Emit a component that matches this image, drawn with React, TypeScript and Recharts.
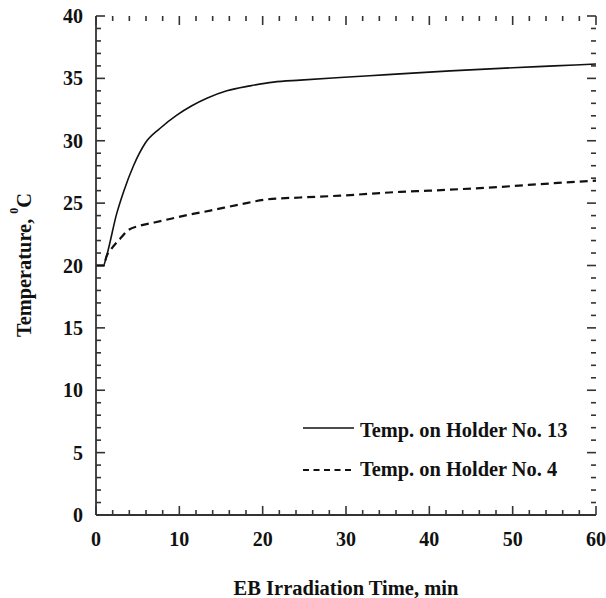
import React from "react";
import { LineChart, Line, XAxis, YAxis, ReferenceLine } from "recharts";

const holder13: { t: number; v: number }[] = [
  { t: 0, v: 20 }, { t: 0.9, v: 20 }, { t: 1.2, v: 20.6 }, { t: 2.5, v: 24.2 },
  { t: 3.3, v: 25.9 }, { t: 4.5, v: 28.0 }, { t: 5.9, v: 29.8 }, { t: 7.7, v: 31.0 },
  { t: 9.7, v: 32.05 }, { t: 11.5, v: 32.8 }, { t: 13.3, v: 33.4 }, { t: 15.7, v: 34.0 },
  { t: 18.5, v: 34.4 }, { t: 21.3, v: 34.7 }, { t: 24.5, v: 34.86 }, { t: 29.3, v: 35.07 },
  { t: 35, v: 35.3 }, { t: 42.5, v: 35.6 }, { t: 50, v: 35.85 }, { t: 55, v: 36.0 },
  { t: 60, v: 36.15 },
];

const holder4: { t: number; v: number }[] = [
  { t: 0, v: 20 }, { t: 0.9, v: 20 }, { t: 1.3, v: 20.8 }, { t: 1.7, v: 21.2 },
  { t: 3.1, v: 22.3 }, { t: 3.7, v: 22.75 }, { t: 5.3, v: 23.2 }, { t: 7, v: 23.45 },
  { t: 9, v: 23.75 }, { t: 11, v: 24.05 }, { t: 13.7, v: 24.4 }, { t: 17.3, v: 24.9 },
  { t: 20.5, v: 25.3 }, { t: 24.5, v: 25.45 }, { t: 29.3, v: 25.6 }, { t: 36.5, v: 25.9 },
  { t: 40, v: 26.0 }, { t: 48.5, v: 26.3 }, { t: 55, v: 26.6 }, { t: 60, v: 26.8 },
];

const xMajor = [0, 10, 20, 30, 40, 50, 60];
const xMinor: number[] = [];
for (let i = 2; i < 60; i += 2) if (i % 10 !== 0) xMinor.push(i);
const yMajor = [0, 5, 10, 15, 20, 25, 30, 35, 40];
const yMinor: number[] = [];
for (let i = 1; i < 40; i += 1) if (i % 5 !== 0) yMinor.push(i);

const seriesNames = ["Temp. on Holder No. 13", "Temp. on Holder No. 4"];
const xTitle = "EB Irradiation Time, min";
const yTitle = "Temperature, ";

const FONT = "'Liberation Serif', 'Times New Roman', serif";
const AX = "#333";
const TXT = "#111";

const X_MAJ = 0.72, X_MIN = 0.4;
const Y_MAJ = 1.08, Y_MIN = 0.6;

const BottomLabel = (p: any) => (
  <text x={p.x} y={p.y + 31} textAnchor="middle" fontFamily={FONT} fontWeight="bold" fontSize={20} fill={TXT}>
    {p.payload.value}
  </text>
);
const LeftLabel = (p: any) => (
  <text x={p.x - 13} y={p.y + 7} textAnchor="end" fontFamily={FONT} fontWeight="bold" fontSize={20} fill={TXT}>
    {p.payload.value}
  </text>
);

const al = { stroke: AX, strokeWidth: 1.8 };
const tk = { stroke: AX, strokeWidth: 1.6 };

export default function App() {
  const tr: React.ReactNode[] = [];
  const bl: React.ReactNode[] = [];
  const addX = (t: number, len: number) => {
    tr.push(<ReferenceLine key={"t" + t} xAxisId="b" yAxisId="l" segment={[{ x: t, y: 40 }, { x: t, y: 40 - len }]} {...tk} ifOverflow="visible" />);
    bl.push(<ReferenceLine key={"b" + t} xAxisId="b" yAxisId="l" segment={[{ x: t, y: len }, { x: t, y: 0.0001 }]} stroke="#343434" strokeWidth={1.6} ifOverflow="visible" />);
  };
  const addY = (v: number, len: number) => {
    tr.push(<ReferenceLine key={"r" + v} xAxisId="b" yAxisId="l" segment={[{ x: 60, y: v }, { x: 60 - len, y: v }]} {...tk} ifOverflow="visible" />);
    bl.push(<ReferenceLine key={"l" + v} xAxisId="b" yAxisId="l" segment={[{ x: len, y: v + 0.0001 }, { x: 0.0001, y: v + 0.0001 }]} stroke="#323232" strokeWidth={1.6} ifOverflow="visible" />);
  };
  xMajor.forEach((t) => addX(t, X_MAJ));
  xMinor.forEach((t) => addX(t, X_MIN));
  yMajor.forEach((v) => addY(v, Y_MAJ));
  yMinor.forEach((v) => addY(v, Y_MIN));

  return (
    <div style={{ position: "absolute", left: 0, top: 0, width: 606, height: 598, background: "#fff" }}>
      <LineChart width={606} height={598} margin={{ top: 16, right: 10, bottom: 0, left: 0 }}>
        <XAxis xAxisId="b" type="number" dataKey="t" domain={[0, 60]} ticks={xMajor} interval={0}
          height={83} tickSize={0} tickMargin={0} tickLine={false} tick={BottomLabel}
          axisLine={al} allowDataOverflow />
        <XAxis xAxisId="t" orientation="top" type="number" dataKey="t" domain={[0, 60]} ticks={xMajor}
          height={0} tick={false} tickLine={false} axisLine={al} allowDataOverflow />
        <YAxis yAxisId="l" type="number" domain={[0, 40]} ticks={yMajor} interval={0}
          width={96} tickSize={0} tickMargin={0} tickLine={false} tick={LeftLabel}
          axisLine={al} allowDataOverflow />
        <YAxis yAxisId="r" orientation="right" type="number" domain={[0, 40]} ticks={yMajor}
          width={0} tick={false} tickLine={false} axisLine={al} allowDataOverflow />
        {tr}
        {bl}
        <Line xAxisId="b" yAxisId="l" data={holder13} dataKey="v" type="monotone" stroke="#111"
          strokeWidth={1.6} dot={false} isAnimationActive={false} />
        <Line xAxisId="b" yAxisId="l" data={holder4} dataKey="v" type="monotone" stroke="#111"
          strokeWidth={2.2} strokeDasharray="8 5" dot={false} isAnimationActive={false} />
      </LineChart>
      <svg width={606} height={598} style={{ position: "absolute", left: 0, top: 0, pointerEvents: "none" }}>
        <line x1={303} x2={354} y1={428} y2={428} stroke="#111" strokeWidth={1.5} />
        <text x={360} y={437} fontFamily={FONT} fontWeight="bold" fontSize={20.4} fill={TXT}>{seriesNames[0]}</text>
        <line x1={303} x2={354} y1={470} y2={470} stroke="#111" strokeWidth={2.2} strokeDasharray="6 4.5" />
        <text x={360} y={476} fontFamily={FONT} fontWeight="bold" fontSize={20.4} fill={TXT}>{seriesNames[1]}</text>
        <text x={346} y={595} textAnchor="middle" fontFamily={FONT} fontWeight="bold" fontSize={20.5} fill={TXT}>{xTitle}</text>
        <text transform="translate(31,265) rotate(-90)" textAnchor="middle" fontFamily={FONT} fontWeight="bold" fontSize={20.4} fill={TXT}>
          {yTitle}
          <tspan dy={-13} fontSize={12}>0</tspan>
          <tspan dy={13}>C</tspan>
        </text>
      </svg>
    </div>
  );
}
